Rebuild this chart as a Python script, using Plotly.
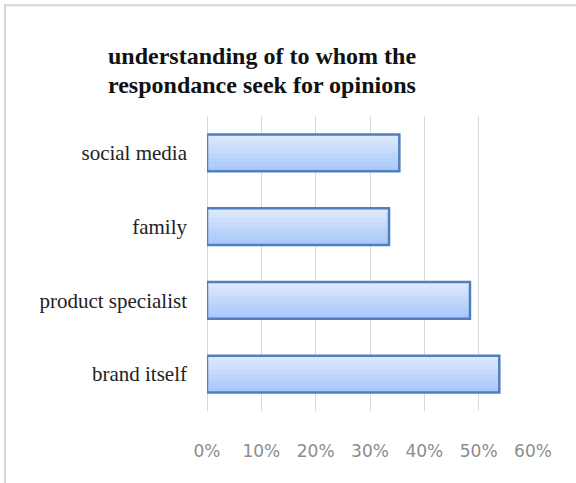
import plotly.graph_objects as go

# Data (bottom to top in plot order)
categories = ["brand itself", "product specialist", "family", "social media"]
values = [0.538, 0.484, 0.335, 0.354]
x_ticks = [0, 0.1, 0.2, 0.3, 0.4, 0.5, 0.6]
x_tick_labels = ["0%", "10%", "20%", "30%", "40%", "50%", "60%"]
title_lines = ["understanding of to whom the", "respondance seek for opinions"]

W = 0.5  # bar thickness in category units

# Vertical gradient emulation: bottom colour -> top colour
bottom_rgb = (166, 198, 249)
top_rgb = (224, 234, 253)
n_layers = 8

fig = go.Figure()
for i in range(n_layers):
    f = i / n_layers
    t = (i + 0.5) / n_layers
    col = tuple(round(b + (tp - b) * t) for b, tp in zip(bottom_rgb, top_rgb))
    fig.add_trace(go.Bar(
        y=categories, x=values, orientation="h",
        width=W * (1 - f), offset=-W / 2 + W * f,
        marker=dict(color="rgb(%d,%d,%d)" % col, line=dict(width=0)),
        hoverinfo="skip", showlegend=False,
    ))
# outline
fig.add_trace(go.Bar(
    y=categories, x=values, orientation="h",
    width=W, offset=-W / 2,
    marker=dict(color="rgba(0,0,0,0)", line=dict(color="#4f7fbf", width=2.5)),
    showlegend=False,
))

PL, PR, PT, PB = 207, 533, 116, 411.5
PW, PH = PR - PL, PB - PT

title_font = dict(family="Liberation Serif", size=24, color="#111111", weight="bold")
annotations = []
for line, yc in zip(title_lines, [56, 84.5]):
    annotations.append(dict(
        text=line, showarrow=False,
        xref="paper", yref="paper",
        x=(261.5 - PL) / PW, y=(PB - yc) / PH,
        xanchor="center", yanchor="middle",
        font=title_font,
    ))

fig.update_layout(
    width=576, height=483,
    barmode="overlay",
    paper_bgcolor="white", plot_bgcolor="white",
    margin=dict(l=PL, r=576 - PR, t=PT, b=483 - PB, autoexpand=False),
    annotations=annotations,
    xaxis=dict(
        range=[0, 0.6], tickvals=x_ticks, ticktext=x_tick_labels,
        showgrid=True, gridcolor="#d9d9d9", gridwidth=1,
        zeroline=True, zerolinecolor="#d9d9d9", zerolinewidth=1,
        showline=False, ticks="",
        tickfont=dict(family="DejaVu Sans", size=17, color="#8c8c8c"),
        ticklabelstandoff=28,
    ),
    yaxis=dict(
        showgrid=False, zeroline=False, showline=False, ticks="",
        tickfont=dict(family="Liberation Serif", size=21, color="#222222"),
        ticklabelstandoff=19,
    ),
    shapes=[
        dict(type="line", xref="paper", yref="paper",
             x0=(4 - PL) / PW, x1=(590 - PL) / PW,
             y0=(PB - 5) / PH, y1=(PB - 5) / PH,
             line=dict(color="#d6d6d6", width=2)),
        dict(type="line", xref="paper", yref="paper",
             x0=(5 - PL) / PW, x1=(5 - PL) / PW,
             y0=(PB - 5) / PH, y1=(PB - 495) / PH,
             line=dict(color="#d6d6d6", width=2)),
    ],
)

fig.write_html("out.html", config={"displayModeBar": False},
               post_script="document.body.style.margin='0';")
